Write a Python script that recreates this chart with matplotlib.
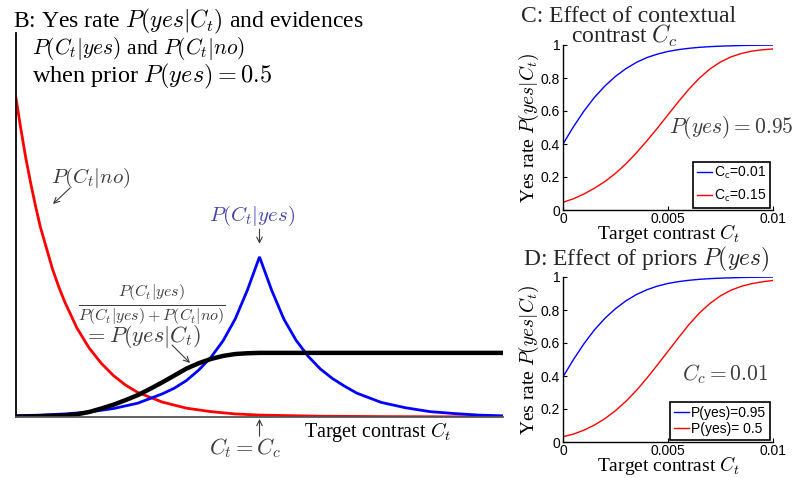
import matplotlib
matplotlib.use("Agg")
import matplotlib.pyplot as plt

plt.rcParams['font.family'] = ['Liberation Serif', 'DejaVu Serif']
plt.rcParams['mathtext.fontset'] = 'cm'

# Panel B: likelihoods and resulting yes rate (contrast in units of C_c)
cc_pos = 1.0
xs_no = [0, .02, .04, .06, .08, .10, .125, .15, .175, .20, .25, .30, .35, .40,
         .45, .50, .60, .70, .80, .90, 1.0, 1.25, 1.5, 1.75, 2.0]
p_no = [.830, .750, .675, .610, .550, .495, .440, .385, .340, .300, .232, .180,
        .140, .108, .083, .064, .039, .023, .014, .008, .005, .002, .001, .0005, .0003]
xs_yes = [0, .1, .2, .3, .4, .5, .6, .65, .7, .75, .8, .85, .9, .95, 1.0, 1.05,
          1.1, 1.15, 1.2, 1.25, 1.3, 1.35, 1.4, 1.5, 1.6, 1.7, 1.8, 1.9, 2.0]
p_yes = [.003, .005, .008, .013, .022, .036, .060, .075, .095, .122, .155, .198,
         .255, .330, .417, .330, .255, .200, .158, .125, .100, .080, .062, .038,
         .024, .014, .009, .005, .003]
xs_rate = [0, .1, .15, .2, .25, .3, .35, .4, .45, .5, .55, .6, .65, .7, .75, .8,
           .85, .9, .95, 1.0, 2.0]
yes_rate = [.001, .002, .003, .004, .007, .013, .022, .032, .044, .057, .073,
            .090, .108, .126, .140, .151, .159, .164, .166, .167, .167]

# Panels C and D: yes rate vs target contrast
ct = [0, .0005, .001, .0015, .002, .0025, .003, .0035, .004, .0045, .005,
      .0055, .006, .0065, .007, .0075, .008, .0085, .009, .0095, .01]
c_low = [.400, .505, .600, .683, .752, .810, .857, .895, .924, .945, .961,
         .972, .980, .986, .990, .993, .995, .997, .998, .999, .9995]
c_high = [.047, .068, .097, .132, .173, .222, .280, .347, .420, .497, .577,
          .657, .733, .800, .855, .897, .928, .949, .963, .971, .976]
prior_hi = [.395, .500, .596, .680, .750, .808, .856, .894, .923, .945, .961,
            .972, .980, .986, .990, .993, .995, .997, .998, .999, .9995]
prior_half = [.032, .048, .072, .103, .142, .190, .247, .313, .388, .468, .550,
              .632, .712, .782, .840, .886, .920, .944, .960, .971, .979]

W, H = 793, 478
fig = plt.figure(figsize=(W / 100, H / 100), dpi=100)

def fx(px):
    return px / W

def fy(py):
    return 1 - py / H

gray = '#3c3c3c'

# ---- panel B ----
axb = fig.add_axes([fx(16), fy(417), fx(487), 384 / H])
axb.plot(xs_no, p_no, color='#ff0000', lw=2)
axb.plot(xs_yes, p_yes, color='#0000ff', lw=2, solid_joinstyle='miter')
axb.plot(xs_rate, yes_rate, color='k', lw=3.2)
axb.set_xlim(0, 2)
axb.set_ylim(0, 1)
axb.set_xticks([])
axb.set_yticks([])
for s in ['top', 'right']:
    axb.spines[s].set_visible(False)
axb.spines['left'].set_linewidth(1.3)
axb.spines['bottom'].set_color('#555555')
axb.spines['bottom'].set_linewidth(1.3)

fig.text(fx(13), fy(21), r'B: Yes rate $P(yes|C_t)$ and evidences',
         fontsize=17, va='center', ha='left')
fig.text(fx(32), fy(48), r'$P(C_t|yes)$ and $P(C_t|no)$',
         fontsize=15.5, va='center', ha='left')
fig.text(fx(32), fy(76), r'when prior $P(yes) = 0.5$',
         fontsize=17.5, va='center', ha='left')

arrow = dict(arrowstyle='->', color=gray, lw=0.8, shrinkA=0, shrinkB=0)
fig.text(fx(91), fy(178), r'$P(C_t|no)$', fontsize=15, color=gray,
         ha='center', va='center')
axb.annotate('', xy=(fx(53), fy(204)), xycoords='figure fraction',
             xytext=(fx(70), fy(188)), textcoords='figure fraction',
             arrowprops=arrow)
peak = max(p_yes)
axb.text(cc_pos - 0.03, peak + 0.106, r'$P(C_t|yes)$', fontsize=15,
         color='#4646a8', ha='center', va='center')
axb.annotate('', xy=(cc_pos, peak + 0.034), xytext=(cc_pos, peak + 0.072),
             arrowprops=arrow)
fig.text(fx(152), fy(305),
         r'$\frac{P(C_t|yes)}{P(C_t|yes)+P(C_t|no)}$',
         fontsize=16.5, color=gray, ha='center', va='center')
fig.text(fx(143), fy(337), r'$= P(yes|C_t)$', fontsize=16, color=gray,
         ha='center', va='center')
axb.annotate('', xy=(fx(190), fy(363)), xycoords='figure fraction',
             xytext=(fx(172), fy(345)), textcoords='figure fraction',
             arrowprops=arrow)
axb.annotate('', xy=(cc_pos, -0.005), xytext=(cc_pos, -0.05),
             arrowprops=arrow, annotation_clip=False)
fig.text(fx(245), fy(448), r'$C_t = C_c$', fontsize=16, color=gray,
         ha='center', va='center')
fig.text(fx(378), fy(432), r'Target contrast $C_t$', fontsize=14.5,
         ha='center', va='center')

# ---- panels C and D ----
def small_panel(top_px, lo, hi, lab_lo, lab_hi, note, spacing):
    ax = fig.add_axes([fx(563), fy(top_px + 165), fx(210), 165 / H])
    ax.plot(ct, lo, color='#0000ff', lw=1.0, label=lab_lo)
    ax.plot(ct, hi, color='#ff0000', lw=1.0, label=lab_hi)
    ax.set_xlim(0, 0.01)
    ax.set_ylim(0, 1)
    ax.set_xticks([0, 0.005, 0.01])
    ax.set_xticklabels(['0', '0.005', '0.01'])
    ax.set_yticks([0, 0.2, 0.4, 0.6, 0.8, 1])
    ax.set_yticklabels(['0', '0.2', '0.4', '0.6', '0.8', '1'])
    for s in ['top', 'right']:
        ax.spines[s].set_visible(False)
    for s in ['left', 'bottom']:
        ax.spines[s].set_linewidth(1.0)
    ax.tick_params(direction='in', length=3, width=0.8, pad=2)
    ax.tick_params(axis='x', pad=1.5)
    for t in ax.get_xticklabels() + ax.get_yticklabels():
        t.set_fontfamily('Liberation Sans')
        t.set_fontsize(10)
    ax.set_xlabel(r'Target contrast $C_t$', fontsize=14, labelpad=-3)
    ax.set_ylabel(r'Yes rate $P(yes|C_t)$', fontsize=14, labelpad=0)
    leg = ax.legend(loc='lower right', bbox_to_anchor=(0.985, 0.015),
                    borderaxespad=0, fancybox=False, framealpha=1,
                    edgecolor='k', handlelength=1.1, handletextpad=0.15,
                    borderpad=0.25, labelspacing=spacing,
                    prop={'family': 'Liberation Sans', 'size': 10})
    leg.get_frame().set_linewidth(1.2)
    ax.text(note[0], note[1], note[2], fontsize=15.5, color=gray,
            ha='center', va='center', transform=ax.transAxes)
    return ax

small_panel(45, c_low, c_high, r'C$_\mathsf{c}$=0.01', r'C$_\mathsf{c}$=0.15',
            (0.80, 0.5, r'$P(yes) = 0.95$'), 0.45)
fig.text(fx(629), fy(16), 'C: Effect of contextual', fontsize=17,
         color='#262626', ha='center', va='center')
fig.text(fx(624), fy(36), r'contrast $C_c$', fontsize=17,
         color='#262626', ha='center', va='center')

small_panel(277, prior_hi, prior_half, 'P(yes)=0.95', 'P(yes)= 0.5',
            (0.77, 0.41, r'$C_c = 0.01$'), 0.15)
fig.text(fx(646), fy(259), r'D: Effect of priors $P(yes)$', fontsize=17,
         color='#262626', ha='center', va='center')

fig.savefig('out.png', dpi=100)
